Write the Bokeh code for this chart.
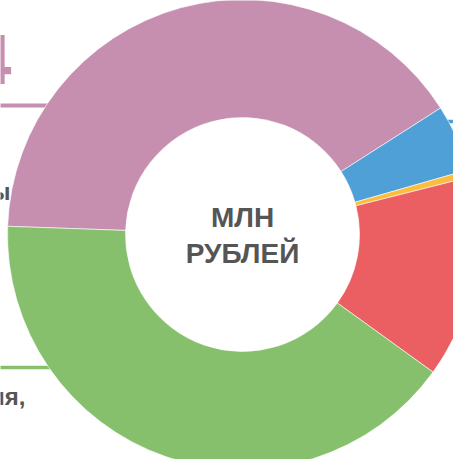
import math
from bokeh.plotting import figure
from bokeh.models import Range1d, ColumnDataSource
from bokeh.core.properties import value
from bokeh.embed import file_html
from bokeh.resources import INLINE

# ---- data ----
categories = ["pink", "blue", "yellow", "red", "green"]
shares = [40.4, 4.6, 0.5, 13.9, 40.6]
colors = ["#C68FB0", "#50A0D8", "#FBBD3B", "#EB5F62", "#87C06C"]
center_lines = ["МЛН", "РУБЛЕЙ"]
side_texts = ["4", "ы", "ия,"]

W, H = 453, 459
H_WIN = 475
p = figure(width=W, height=H, output_backend="svg", toolbar_location=None,
           x_range=Range1d(8, 8 + W), y_range=Range1d(H_WIN - 8 - H, H_WIN - 8),
           min_border=0, outline_line_color=None)
p.axis.visible = False
p.grid.visible = False
p.background_fill_color = "white"
p.border_fill_color = "white"

def Y(sy):
    return H_WIN - sy

def TB(sy, size):
    # baseline correction for Bokeh text placement
    return Y(sy - 0.3 * size)

cx, cy = 250, Y(242)
r_out, r_in = 235, 117

# decorative leader lines (drawn under the donut)
p.segment(x0=[0], y0=[Y(113)], x1=[70], y1=[Y(113)], line_color=colors[0], line_width=4)
p.segment(x0=[0], y0=[Y(375)], x1=[70], y1=[Y(375)], line_color=colors[4], line_width=3.5)
p.segment(x0=[454], y0=[Y(129)], x1=[480], y1=[Y(129)], line_color=colors[1], line_width=3.5)
p.segment(x0=[440], y0=[Y(345)], x1=[480], y1=[Y(345)], line_color=colors[3], line_width=3.5)

# donut
total = sum(shares)
start0 = 178.0
starts, ends = [], []
acc = 0.0
for v in shares:
    s = start0 - acc / total * 360.0
    e = s - v / total * 360.0
    starts.append(math.radians(s))
    ends.append(math.radians(e))
    acc += v
src = ColumnDataSource(dict(cat=categories, val=shares, color=colors, start=starts, end=ends))
p.annular_wedge(x=cx, y=cy, inner_radius=r_in, outer_radius=r_out,
                start_angle="start", end_angle="end", direction="clock",
                fill_color="color", line_color="white", line_width=0.6, source=src)

font = value("Liberation Sans")
# center label
p.text(x=[cx, cx], y=[TB(233, 28), TB(269, 28)], text=center_lines, text_font=font,
       text_font_style="bold", text_font_size="28px", text_color="#555555",
       text_align="center", text_baseline="alphabetic")

# partial side texts
p.text(x=[19], y=[TB(88, 71)], text=[side_texts[0]], text_font=font, text_font_style="bold",
       text_font_size="71px", text_color=colors[0], text_align="right", text_baseline="alphabetic")
p.text(x=[18, 33], y=[TB(206, 24), TB(411, 24)], text=side_texts[1:], text_font=font,
       text_font_style="bold", text_font_size="24px", text_color="#555555",
       text_align="right", text_baseline="alphabetic")

open("out.html", "w").write(file_html(p, INLINE))
